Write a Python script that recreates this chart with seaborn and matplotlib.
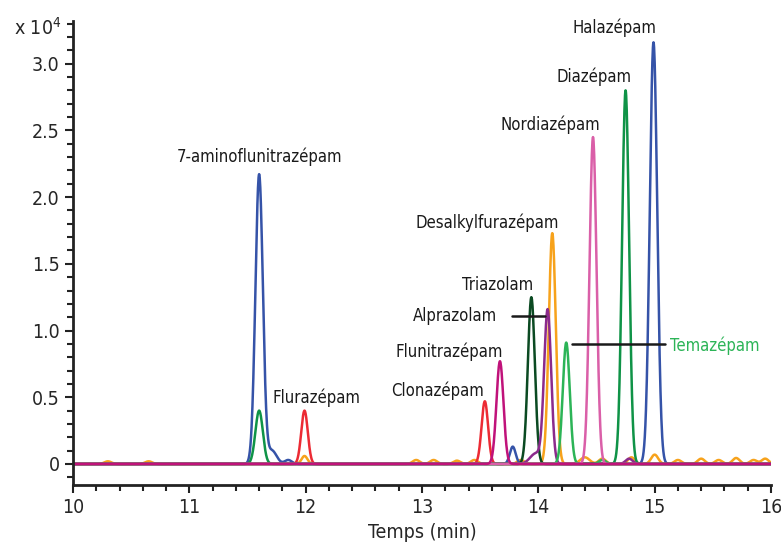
import numpy as np
import pandas as pd
import matplotlib.pyplot as plt
from matplotlib.ticker import MultipleLocator
import seaborn as sns

# Peak tables per trace: (retention time in min, height in x10^4 counts, sigma in min)
trace_names = ['orange', 'blue', 'green', 'red', 'dkgreen', 'purple', 'ltgreen', 'pink', 'magenta']
trace_colors = ['#f7a21b', '#3553a8', '#0f9347', '#ec2b34', '#0b4a22', '#8b2a8c', '#2cb457', '#da5fa8', '#c0127a']

peaks = {
    'orange': [(10.3, 0.02, 0.03), (10.65, 0.02, 0.03), (11.99, 0.06, 0.025), (12.95, 0.03, 0.03),
               (13.1, 0.03, 0.03), (13.3, 0.025, 0.03), (13.45, 0.03, 0.03), (13.85, 0.03, 0.03),
               (14.12, 1.73, 0.03), (14.4, 0.05, 0.04), (14.55, 0.04, 0.03), (14.8, 0.05, 0.03),
               (15.0, 0.07, 0.03), (15.2, 0.03, 0.03), (15.4, 0.04, 0.03), (15.55, 0.03, 0.03),
               (15.7, 0.045, 0.03), (15.85, 0.03, 0.03), (15.95, 0.04, 0.03)],
    'blue': [(11.60, 2.17, 0.032), (11.71, 0.10, 0.04), (11.85, 0.03, 0.03), (13.78, 0.13, 0.025),
             (14.99, 3.16, 0.032)],
    'green': [(11.60, 0.40, 0.032), (14.75, 2.80, 0.03)],
    'red': [(11.99, 0.40, 0.028), (13.54, 0.47, 0.028)],
    'dkgreen': [(13.94, 1.25, 0.03)],
    'purple': [(14.08, 1.15, 0.03), (13.98, 0.08, 0.05), (14.78, 0.04, 0.03)],
    'ltgreen': [(14.24, 0.91, 0.03), (14.55, 0.03, 0.03)],
    'pink': [(14.47, 2.45, 0.03)],
    'magenta': [(13.67, 0.77, 0.03)],
}

labels = ['7-aminoflunitrazépam', 'Flurazépam', 'Clonazépam', 'Flunitrazépam', 'Alprazolam',
          'Triazolam', 'Desalkylfurazépam', 'Nordiazépam', 'Diazépam', 'Halazépam', 'Temazépam']
label_x = [11.60, 12.09, 13.13, 13.23, 13.28, 13.65, 13.56, 14.10, 14.48, 14.65, 15.13]
label_y = [2.30, 0.495, 0.55, 0.84, 1.11, 1.34, 1.81, 2.54, 2.90, 3.27, 0.885]

t = np.linspace(10, 16, 2401)
rows = []
for name in trace_names:
    v = np.zeros_like(t)
    for rt, h, s in peaks[name]:
        v += h * np.exp(-0.5 * ((t - rt) / s) ** 2)
    rows.append(pd.DataFrame({'t': t, 'v': v, 'trace': name}))
df = pd.concat(rows)

sns.set_style('ticks')
plt.rcParams['font.family'] = ['DejaVu Sans']
plt.rcParams['font.stretch'] = 'condensed'

fig = plt.figure(figsize=(7.81, 5.44), dpi=100)
ax = fig.add_axes([73 / 781, 1 - 485 / 544, 698 / 781, 464 / 544])

sns.lineplot(data=df, x='t', y='v', hue='trace', hue_order=trace_names,
             palette=dict(zip(trace_names, trace_colors)), legend=False, lw=1.8, ax=ax)

ax.set_xlim(10, 16)
ax.set_ylim(-0.1575, 3.32)
ax.xaxis.set_major_locator(MultipleLocator(1))
ax.xaxis.set_minor_locator(MultipleLocator(0.2))
ax.yaxis.set_minor_locator(MultipleLocator(0.1))
ax.set_yticks([0, 0.5, 1.0, 1.5, 2.0, 2.5, 3.0])
ax.set_yticklabels(['0', '0.5', '1.0', '1.5', '2.0', '2.5', '3.0'])
ax.tick_params(which='major', length=6, width=1.5, labelsize=14, color='#222222')
ax.tick_params(which='minor', length=4, width=1.5, color='#222222')
for sp in ['top', 'right']:
    ax.spines[sp].set_visible(False)
for sp in ['left', 'bottom']:
    ax.spines[sp].set_linewidth(2)
    ax.spines[sp].set_color('#222222')
ax.set_xlabel('Temps (min)', fontsize=14)
ax.set_ylabel('')

for lab, x, y in zip(labels, label_x, label_y):
    if lab == 'Temazépam':
        ax.text(x, y, lab, fontsize=12, color='#2cb457', ha='left', va='center')
    else:
        ax.text(x, y, lab, fontsize=12, color='#1a1a1a', ha='center', va='center')

# leader lines
ax.plot([13.77, 14.06], [1.11, 1.11], color='#1a1a1a', lw=1.8)
ax.plot([14.29, 15.09], [0.90, 0.90], color='#1a1a1a', lw=1.8)

fig.text(14 / 781, 1 - 28 / 544, 'x 10$^4$', fontsize=14, va='center', ha='left')

fig.savefig('out.png', dpi=100)
